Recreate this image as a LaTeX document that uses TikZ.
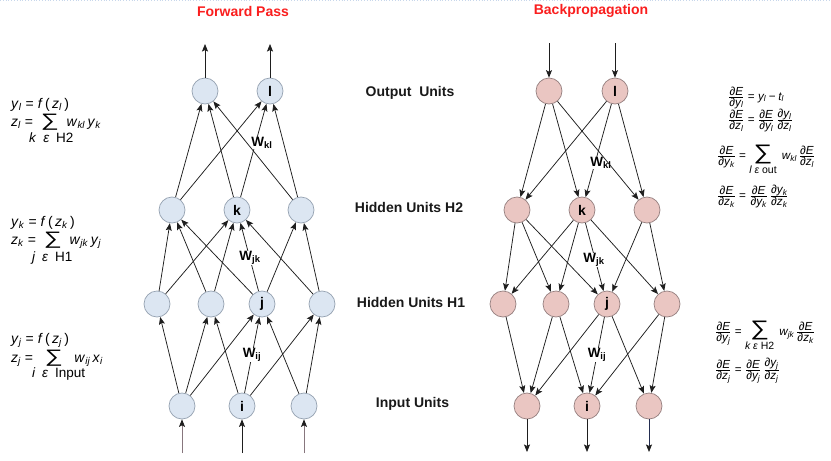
\documentclass[tikz,border=0pt]{standalone}
\usepackage{graphicx}
\usepackage{fontspec}
\setmainfont{Liberation Sans}
\usetikzlibrary{arrows.meta}
\definecolor{fillF}{RGB}{220,230,242}
\definecolor{bordF}{RGB}{150,163,178}
\definecolor{fillB}{RGB}{234,198,194}
\definecolor{bordB}{RGB}{150,128,128}
\definecolor{titlered}{RGB}{250,30,30}
\definecolor{shaft}{RGB}{135,118,125}
\definecolor{edgec}{RGB}{30,30,30}
\definecolor{blueshaft}{RGB}{35,45,80}
\definecolor{dotc}{RGB}{200,215,235}
\newcommand{\vsub}[2]{\mbox{\itshape #1\textsubscript{#2}}}
\newcommand{\dpart}[2]{\mbox{∂\itshape #1\textsubscript{#2}}}
\newcommand{\dEE}{\mbox{∂\itshape E}}
\newcommand{\frc}[2]{\textstyle\frac{#1}{#2}}
\newcommand{\bsum}[1]{\mathop{\mbox{\scalebox{1.25}[1]{\fontsize{21}{21}\selectfont ∑}}}\limits_{\mbox{\fontsize{10.5}{10.5}\selectfont #1}}}
\newcommand{\eqs}{\mathrel{\mbox{=}}}
\newcommand{\lsum}{\scalebox{1.4}[1]{\fontsize{18}{18}\selectfont ∑}}
\newcommand{\isub}[2]{\textit{#1}\textsubscript{\textit{#2}}}
\begin{document}
\begin{tikzpicture}[x=1pt,y=-1pt,
  arr/.style={-{Stealth[length=7.5pt,width=6pt,inset=1.5pt,color=edgec]}, line width=0.75pt, draw=edgec},
  fnode/.style={circle, minimum size=26pt, inner sep=0pt, draw=bordF, fill=fillF, line width=0.7pt, font=\bfseries\fontsize{14}{14}\selectfont},
  bnode/.style={fnode, draw=bordB, fill=fillB},
  wlab/.style={fill=white, inner sep=0.6pt, font=\bfseries\fontsize{13.5}{13.5}\selectfont},
  layer/.style={font=\bfseries\fontsize{14}{14}\selectfont, text=black!90},
  title/.style={font=\bfseries\fontsize{14}{14}\selectfont, text=titlered},
  leq/.style={anchor=base west, inner sep=0pt, font=\fontsize{14}{16}\selectfont},
  leqs/.style={anchor=base west, inner sep=0pt, font=\fontsize{13.5}{16}\selectfont},
  req/.style={anchor=base west, inner sep=0pt, font=\fontsize{11.7}{14}\selectfont}]
\useasboundingbox[fill=white] (0,0) rectangle (831,461);
\draw[dotc, dotted, line width=0.8pt] (0,0.6) -- (831,0.6);

% titles
\node[title] (tf) at (243,11) {Forward Pass};
\node[title] (tb) at (591,11) {Backpropagation};

% layer labels
\node[layer] (lo) at (410,92.5) {Output\ \ Units};
\node[layer] (lh2) at (409,207.5) {Hidden Units H2};
\node[layer] (lh1) at (411,302.5) {Hidden Units H1};
\node[layer] (li) at (412.5,404) {Input Units};

% ---------- forward network ----------
\node[fnode] (fo1) at (205,91) {};
\node[fnode] (fo2) at (270,91) {l};
\node[fnode] (fh2a) at (172,210) {};
\node[fnode] (fh2b) at (237,210) {k};
\node[fnode] (fh2c) at (301,210) {};
\node[fnode] (fh1a) at (157,304) {};
\node[fnode] (fh1b) at (211,304) {};
\node[fnode] (fh1c) at (262,304) {j};
\node[fnode] (fh1d) at (322,304) {};
\node[fnode] (fi1) at (182,406) {};
\node[fnode] (fi2) at (242,406) {i};
\node[fnode] (fi3) at (304,406) {};

\coordinate (ft1) at (205,44);
\coordinate (ft2) at (270,44);
\coordinate (fb1) at (182,453);
\coordinate (fb2) at (242,453);
\coordinate (fb3) at (304,453);

% weighted edges first
\draw[arr] (fh2b) -- (fo2);
\draw[arr] (fh1c) -- (fh2b);
\draw[arr] (fi2) -- (fh1c);
\node[wlab] (fwkl) at (262,143) {W\textsubscript{kl}};
\node[wlab] (fwjk) at (250,258) {W\textsubscript{jk}};
\node[wlab] (fwij) at (252,355) {W\textsubscript{ij}};

\foreach \a/\b in {fh2a/fo1, fh2a/fo2, fh2b/fo1, fh2c/fo1, fh2c/fo2,
  fh1a/fh2a, fh1a/fh2b, fh1b/fh2a, fh1b/fh2b, fh1c/fh2a, fh1c/fh2c, fh1d/fh2b, fh1d/fh2c,
  fi1/fh1a, fi1/fh1b, fi1/fh1c, fi2/fh1b, fi2/fh1d, fi3/fh1c, fi3/fh1d}
  \draw[arr] (\a) -- (\b);

\draw[arr] (fo1) -- (ft1);
\draw[arr] (fo2) -- (ft2);
\draw[arr, draw=shaft] (fb1) -- (fi1);
\draw[arr] (fb2) -- (fi2);
\draw[arr, draw=shaft] (fb3) -- (fi3);

% ---------- backprop network ----------
\node[bnode] (bo1) at (549,91) {};
\node[bnode] (bo2) at (615,91) {l};
\node[bnode] (bh2a) at (517,210) {};
\node[bnode] (bh2b) at (582,210) {k};
\node[bnode] (bh2c) at (647,210) {};
\node[bnode] (bh1a) at (503,304) {};
\node[bnode] (bh1b) at (556,304) {};
\node[bnode] (bh1c) at (607,304) {j};
\node[bnode] (bh1d) at (667,304) {};
\node[bnode] (bi1) at (527,406) {};
\node[bnode] (bi2) at (587,406) {i};
\node[bnode] (bi3) at (649,406) {};

\coordinate (bt1) at (549,43);
\coordinate (bt2) at (615,43);
\coordinate (bb1) at (527,452);
\coordinate (bb2) at (587,452);
\coordinate (bb3) at (649,452);

\draw[arr] (bo2) -- (bh2b);
\draw[arr] (bh2b) -- (bh1c);
\draw[arr] (bh1c) -- (bi2);
\node[wlab] (bwkl) at (601,163) {W\textsubscript{kl}};
\node[wlab] (bwjk) at (594,260) {W\textsubscript{jk}};
\node[wlab] (bwij) at (597,355) {W\textsubscript{ij}};

\foreach \a/\b in {bo1/bh2a, bo1/bh2b, bo1/bh2c, bo2/bh2a, bo2/bh2c,
  bh2a/bh1a, bh2a/bh1b, bh2a/bh1c, bh2b/bh1a, bh2b/bh1b, bh2b/bh1d, bh2c/bh1c, bh2c/bh1d,
  bh1a/bi1, bh1b/bi1, bh1b/bi2, bh1c/bi1, bh1c/bi3, bh1d/bi2, bh1d/bi3}
  \draw[arr] (\a) -- (\b);

\draw[arr] (bt1) -- (bo1);
\draw[arr] (bt2) -- (bo2);
\draw[arr] (bi1) -- (bb1);
\draw[arr] (bi2) -- (bb2);
\draw[arr, draw=blueshaft] (bi3) -- (bb3);

% ---------- left equations ----------
\node[leq] (le1) at (11,108) {\isub{y}{l} = \textit{f}\,(\,\isub{z}{l}\,)};
\node[leq] (le2) at (11,126.5) {\isub{z}{l} = \ \lsum\ \ \isub{w}{kl}\,\isub{y}{k}};
\node[leqs] (le3) at (29,142.5) {\textit{k}\enspace\textit{ε}\enspace H2};

\node[leq] (le4) at (11,226) {\isub{y}{k} = \textit{f}\,(\,\isub{z}{k}\,)};
\node[leq] (le5) at (11,244.5) {\isub{z}{k} = \ \lsum\ \ \isub{w}{jk}\,\isub{y}{j}};
\node[leqs] (le6) at (32,261.5) {\textit{j}\enspace\textit{ε}\enspace H1};

\node[leq] (le7) at (11,343.5) {\isub{y}{j} = \textit{f}\,(\,\isub{z}{j}\,)};
\node[leq] (le8) at (11,362.5) {\isub{z}{j} = \ \ \lsum\ \ \ \isub{w}{ij}\,\isub{x}{i}};
\node[leqs] (le9) at (32,377.5) {\textit{i}\enspace\textit{ε}\enspace Input};

% ---------- right equations ----------
\node[req] (re1) at (728,100) {$\frc{\dEE}{\dpart{y}{l}} \eqs \vsub{y}{l} \mathbin{\mbox{−}} \vsub{t}{l}$};
\node[req] (re2) at (728,123.5) {$\frc{\dEE}{\dpart{z}{l}} \eqs \frc{\dEE}{\dpart{y}{l}}\,\frc{\dpart{y}{l}}{\dpart{z}{l}}$};
\node[req] (re3) at (717,159.5) {$\frc{\dEE}{\dpart{y}{k}} \eqs \bsum{\itshape l ε \upshape out}\ \vsub{w}{kl}\,\frc{\dEE}{\dpart{z}{l}}$};
\node[req] (re4) at (717,199.5) {$\frc{\dEE}{\dpart{z}{k}} \eqs \frc{\dEE}{\dpart{y}{k}}\,\frc{\dpart{y}{k}}{\dpart{z}{k}}$};
\node[req] (re5) at (715,335.5) {$\frc{\dEE}{\dpart{y}{j}} \eqs \bsum{\itshape k ε \upshape H2}\ \vsub{w}{jk}\,\frc{\dEE}{\dpart{z}{k}}$};
\node[req] (re6) at (715,373.5) {$\frc{\dEE}{\dpart{z}{j}} \eqs \frc{\dEE}{\dpart{y}{j}}\,\frc{\dpart{y}{j}}{\dpart{z}{j}}$};
\end{tikzpicture}
\end{document}
